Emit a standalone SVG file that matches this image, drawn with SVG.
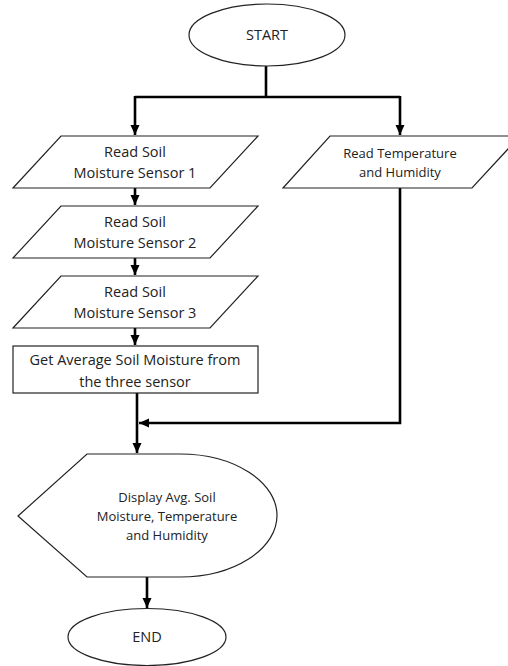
<svg xmlns="http://www.w3.org/2000/svg" width="508" height="666" viewBox="0 0 508 666">
<style>
.shape{fill:#fff;stroke:#222;stroke-width:1.2}
.conn{fill:none;stroke:#000;stroke-width:2.6}
text{font-family:"Open Sans","Liberation Sans",Arial,sans-serif;font-size:14.5px;fill:#222;text-anchor:middle}
</style>
<defs>
<marker id="ah" markerUnits="userSpaceOnUse" markerWidth="10" markerHeight="10" viewBox="0 0 10 10" refX="10" refY="5" orient="auto">
<path d="M0,0.5 L10,5 L0,9.5 Z" fill="#000"/>
</marker>
</defs>
<g id="connectors">
<path class="conn" d="M266,66 V97"/>
<path class="conn" d="M135,97 H400"/>
<path class="conn" d="M135,96 V135" marker-end="url(#ah)"/>
<path class="conn" d="M400,96 V135" marker-end="url(#ah)"/>
<path class="conn" d="M135,188 V205" marker-end="url(#ah)"/>
<path class="conn" d="M135,258 V275" marker-end="url(#ah)"/>
<path class="conn" d="M135,328 V345" marker-end="url(#ah)"/>
<path class="conn" d="M137,393 V453" marker-end="url(#ah)"/>
<path class="conn" d="M400,188 V423 H139" marker-end="url(#ah)"/>
<path class="conn" d="M147,577 V608" marker-end="url(#ah)"/>
</g>
<g id="start">
<ellipse class="shape" cx="267" cy="35" rx="78" ry="31"/>
<text x="267" y="40">START</text>
</g>
<g id="read1">
<path class="shape" d="M61,136 H258 L210,188 H13 Z"/>
<text x="135" y="157">Read Soil</text>
<text x="135" y="178">Moisture Sensor 1</text>
</g>
<g id="read2">
<path class="shape" d="M61,206 H258 L210,258 H13 Z"/>
<text x="135" y="227">Read Soil</text>
<text x="135" y="248">Moisture Sensor 2</text>
</g>
<g id="read3">
<path class="shape" d="M61,276 H258 L210,328 H13 Z"/>
<text x="135" y="297">Read Soil</text>
<text x="135" y="318">Moisture Sensor 3</text>
</g>
<g id="readTemp">
<path class="shape" d="M330,136 H520 L472,188 H283 Z"/>
<text x="400" y="158" style="font-size:13px">Read Temperature</text>
<text x="400" y="177" style="font-size:13px">and Humidity</text>
</g>
<g id="average">
<rect class="shape" x="13" y="346" width="245" height="47"/>
<text x="135" y="365">Get Average Soil Moisture from</text>
<text x="135" y="387">the three sensor</text>
</g>
<g id="display">
<path class="shape" d="M18,516 L87,454 H180 A97,61.5 0 0 1 180,577 H87 Z"/>
<text x="167" y="502" style="font-size:13px">Display Avg. Soil</text>
<text x="167" y="521" style="font-size:13px">Moisture, Temperature</text>
<text x="167" y="540" style="font-size:13px">and Humidity</text>
</g>
<g id="end">
<ellipse class="shape" cx="147" cy="637" rx="79" ry="28.5"/>
<text x="147" y="642">END</text>
</g>
</svg>
